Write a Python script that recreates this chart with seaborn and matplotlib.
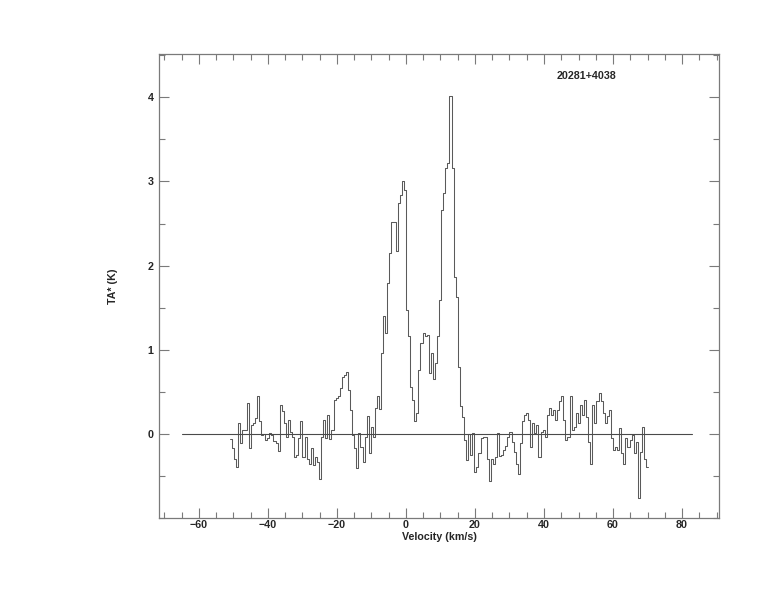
import numpy as np
import pandas as pd
import matplotlib
matplotlib.use("Agg")
import matplotlib.pyplot as plt
import seaborn as sns
from matplotlib.ticker import MultipleLocator

# ---------------- data ----------------
source_name = "20281+4038"
x_label = "Velocity (km/s)"
y_label = "TA* (K)"

# spectrometer channels: first channel edge and channel width (km/s)
v_start = -51.0
channel_width = 0.6

# antenna temperature per channel (K)
ta_star = [
    -0.06, -0.17, -0.29, -0.39, 0.13, -0.11, 0.05, 0.05, 0.37, -0.17,
    0.11, 0.13, 0.19, 0.45, 0.15, -0.01, 0.00, -0.07, -0.05, 0.01,
    -0.01, -0.08, -0.11, -0.20, 0.35, 0.27, 0.13, -0.03, 0.17, 0.03,
    -0.03, -0.27, -0.25, -0.05, 0.15, -0.27, -0.03, -0.30, -0.35, -0.17,
    -0.37, -0.27, -0.33, -0.53, -0.03, 0.17, -0.05, 0.23, -0.06, 0.05,
    0.40, 0.43, 0.45, 0.55, 0.68, 0.70, 0.74, 0.52, 0.29, -0.01,
    -0.17, -0.40, 0.01, -0.15, -0.33, -0.03, 0.21, -0.23, 0.09, -0.03,
    0.31, 0.45, 0.30, 0.96, 1.40, 1.20, 1.80, 2.15, 2.52, 2.52,
    2.17, 2.74, 2.84, 3.00, 2.90, 1.47, 1.16, 0.56, 0.40, 0.15,
    0.25, 0.76, 1.08, 1.20, 1.16, 1.18, 0.72, 0.96, 0.66, 0.84,
    1.16, 1.59, 2.66, 2.86, 3.16, 3.22, 4.02, 3.16, 1.87, 1.63,
    0.80, 0.33, 0.20, -0.07, -0.31, 0.00, -0.25, 0.01, -0.45, -0.39,
    -0.23, -0.05, -0.03, -0.03, -0.30, -0.56, -0.30, -0.35, -0.27, 0.01,
    -0.26, -0.25, -0.19, -0.14, -0.03, 0.03, -0.09, -0.21, -0.35, -0.47,
    -0.10, 0.15, 0.23, 0.25, 0.17, -0.15, 0.13, 0.01, 0.11, -0.27,
    0.03, 0.05, -0.03, 0.23, 0.31, 0.23, 0.29, 0.17, 0.29, 0.39,
    0.45, 0.17, -0.07, -0.03, 0.45, 0.05, 0.09, 0.25, 0.13, 0.35,
    0.23, 0.41, 0.20, -0.09, -0.35, 0.35, 0.13, 0.39, 0.49, 0.39,
    0.25, 0.13, 0.21, 0.29, -0.05, -0.19, -0.15, -0.19, 0.07, -0.23,
    -0.35, -0.05, -0.15, -0.07, -0.01, -0.23, -0.09, -0.76, -0.21, 0.09,
    -0.29, -0.39,
]

# zero baseline drawn across the plot
baseline_v = [-65.0, 83.0]
baseline_t = [0.0, 0.0]

x_ticks = [-60, -40, -20, 0, 20, 40, 60, 80]
y_ticks = [0, 1, 2, 3, 4]

# ---------------- style ----------------
sns.set_style("ticks")
plt.rcParams["font.family"] = ["Liberation Sans", "DejaVu Sans"]
frame_color = "#7a7a7a"

fig = plt.figure(figsize=(7.74, 6.12), dpi=100)
fig.patch.set_facecolor("white")
ax = fig.add_axes([0.2058, 0.1531, 0.7235, 0.7582])

edges = v_start + channel_width * np.arange(len(ta_star) + 1)
df = pd.DataFrame({"v": edges, "t": ta_star + [ta_star[-1]]})

sns.lineplot(data=df, x="v", y="t", drawstyle="steps-post", color="#5a5a5a",
             linewidth=0.75, estimator=None, sort=False, ax=ax)
sns.lineplot(x=baseline_v, y=baseline_t, color="#4a4a4a", linewidth=0.8,
             estimator=None, sort=False, ax=ax)

ax.set_xlim(-71.5, 90.8)
ax.set_ylim(-1.0, 4.51)
ax.set_xticks(x_ticks)
ax.set_yticks(y_ticks)
ax.xaxis.set_minor_locator(MultipleLocator(5))
ax.yaxis.set_minor_locator(MultipleLocator(0.5))

ax.tick_params(which="both", direction="in", top=True, right=True,
               color=frame_color, width=0.8)
ax.tick_params(which="major", length=7.2, labelsize=7.7)
ax.tick_params(which="minor", length=4.3)
ax.tick_params(axis="x", which="major", pad=1.5)
ax.tick_params(axis="y", which="major", pad=4)
for lab in ax.get_xticklabels() + ax.get_yticklabels():
    lab.set_fontweight("bold")
for s in ax.spines.values():
    s.set_color(frame_color)
    s.set_linewidth(0.9)

ax.set_xlabel(x_label, fontsize=7.7, fontweight="bold")
ax.set_ylabel(y_label, fontsize=7.7, fontweight="bold")
ax.xaxis.set_label_coords(0.5, -0.041)
ax.yaxis.set_label_coords(-0.083, 0.5)
ax.xaxis.label.set_va("center")
ax.yaxis.label.set_va("center")

ax.text(0.762, 0.953, source_name, transform=ax.transAxes, ha="center",
        va="center", fontsize=7.7, fontweight="bold")

fig.savefig("out.png", dpi=100)
